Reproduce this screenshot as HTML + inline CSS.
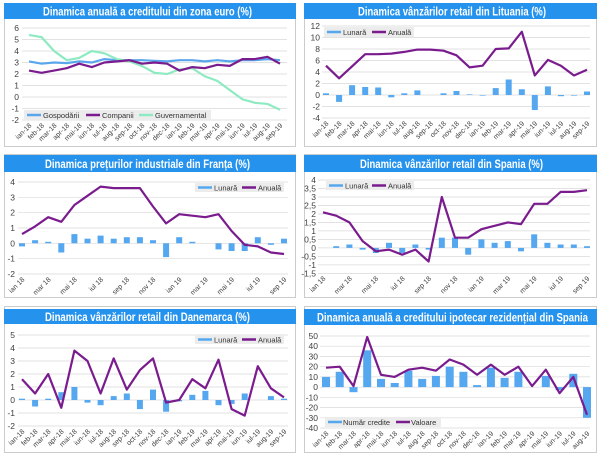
<!DOCTYPE html>
<html><head><meta charset="utf-8"><style>
body{margin:0;background:#fff}
svg{display:block;font-family:"Liberation Sans",sans-serif}
.t{font-family:"Liberation Sans",sans-serif;font-weight:bold;fill:#fff;font-size:12px}
.y{font-size:8.5px;fill:#404040;text-anchor:end}
.x{font-size:7px;fill:#404040;text-anchor:end}
.l{font-size:7.5px;fill:#333}
.g{stroke:#d9d9d9;stroke-width:0.7}
.b{fill:#55a7ef}
.p{fill:none;stroke:#7a1b8e;stroke-width:2.2;stroke-linejoin:round}
</style></head><body>
<svg width="600" height="456" viewBox="0 0 600 456">
<rect x="4.5" y="3.5" width="291" height="143" fill="#fff" stroke="#ccc"/>
<rect x="304.5" y="3.5" width="292" height="143" fill="#fff" stroke="#ccc"/>
<rect x="4.5" y="154.5" width="291" height="143" fill="#fff" stroke="#ccc"/>
<rect x="304.5" y="154.5" width="292" height="143" fill="#fff" stroke="#ccc"/>
<rect x="4.5" y="306.5" width="291" height="146" fill="#fff" stroke="#ccc"/>
<rect x="304.5" y="306.5" width="292" height="146" fill="#fff" stroke="#ccc"/>
<rect x="4" y="3" width="292" height="16" fill="#2592ee"/>
<text class="t" x="43" y="15.5" textLength="209" lengthAdjust="spacingAndGlyphs">Dinamica anuală a creditului din zona euro (%)</text>
<rect x="304" y="3" width="293" height="16" fill="#2592ee"/>
<text class="t" x="358" y="15.5" textLength="188" lengthAdjust="spacingAndGlyphs">Dinamica vânzărilor retail din Lituania (%)</text>
<rect x="4" y="155" width="292" height="17" fill="#2592ee"/>
<text class="t" x="45" y="168" textLength="205" lengthAdjust="spacingAndGlyphs">Dinamica prețurilor industriale din Franța (%)</text>
<rect x="304" y="155" width="293" height="17" fill="#2592ee"/>
<text class="t" x="360" y="168" textLength="183" lengthAdjust="spacingAndGlyphs">Dinamica vânzărilor retail din Spania (%)</text>
<rect x="4" y="309" width="292" height="15" fill="#2592ee"/>
<text class="t" x="45" y="321" textLength="205" lengthAdjust="spacingAndGlyphs">Dinamica vânzărilor retail din Danemarca  (%)</text>
<rect x="304" y="309" width="293" height="16" fill="#2592ee"/>
<text class="t" x="317" y="321.5" textLength="271" lengthAdjust="spacingAndGlyphs">Dinamica anuală a creditului ipotecar rezidențial din Spania</text>

<!-- PANEL 1 -->
<g class="g"><line x1="22" x2="287" y1="28" y2="28"/><line x1="22" x2="287" y1="39.5" y2="39.5"/><line x1="22" x2="287" y1="51" y2="51"/><line x1="22" x2="287" y1="62.5" y2="62.5"/><line x1="22" x2="287" y1="74" y2="74"/><line x1="22" x2="287" y1="85.5" y2="85.5"/><line x1="22" x2="287" y1="97" y2="97"/><line x1="22" x2="287" y1="108.5" y2="108.5"/><line x1="22" x2="287" y1="120" y2="120"/></g>
<g class="y"><text x="19" y="31">6</text><text x="19" y="42.5">5</text><text x="19" y="54">4</text><text x="19" y="65.5">3</text><text x="19" y="77">2</text><text x="19" y="88.5">1</text><text x="19" y="100">0</text><text x="19" y="111.5">-1</text><text x="19" y="123">-2</text></g>
<polyline fill="none" stroke="#5aa6ec" stroke-width="2.2" points="29,61.4 41.6,63.7 54.1,62.5 66.7,63.1 79.2,61.4 91.8,62.5 104.3,59.1 116.9,60.2 129.4,60.2 142,60.2 154.5,60.8 167.1,61.4 179.6,60.2 192.2,60.2 204.7,61.4 217.3,60.2 229.8,61.4 242.4,60.2 254.9,60.2 267.5,59.1 280,60.2"/>
<polyline fill="none" stroke="#8eeac2" stroke-width="2.2" points="29,34.9 41.6,37.2 54.1,51 66.7,60.2 79.2,57.9 91.8,51 104.3,53.3 116.9,59.1 129.4,61.4 142,66 154.5,72.8 167.1,74 179.6,69.4 192.2,68.2 204.7,76.3 217.3,80.9 229.8,90.1 242.4,99.3 254.9,102.8 267.5,103.9 280,109.7"/>
<polyline class="p" points="29,70.6 41.6,72.8 54.1,70.6 66.7,68.2 79.2,63.7 91.8,67.1 104.3,62.5 116.9,61.4 129.4,60.2 142,63.7 154.5,62.5 167.1,63.7 179.6,70.6 192.2,67.1 204.7,68.2 217.3,64.8 229.8,65.9 242.4,59.1 254.9,59.1 267.5,56.8 280,63.7"/>
<rect x="24" y="110" width="187" height="10" fill="#ececec"/>
<line x1="27" x2="41" y1="115" y2="115" stroke="#5aa6ec" stroke-width="2.5"/><text class="l" x="43" y="118">Gospodării</text>
<line x1="86" x2="100" y1="115" y2="115" stroke="#7a1b8e" stroke-width="2.5"/><text class="l" x="102" y="118">Companii</text>
<line x1="139" x2="153" y1="115" y2="115" stroke="#8eeac2" stroke-width="2.5"/><text class="l" x="155" y="118">Guvernamental</text>
<g class="x">
<text transform="translate(32,126) rotate(-45)">ian-18</text><text transform="translate(44.6,126) rotate(-45)">feb-18</text><text transform="translate(57.1,126) rotate(-45)">mar-18</text><text transform="translate(69.7,126) rotate(-45)">apr-18</text><text transform="translate(82.2,126) rotate(-45)">mai-18</text><text transform="translate(94.8,126) rotate(-45)">iun-18</text><text transform="translate(107.3,126) rotate(-45)">iul-18</text><text transform="translate(119.9,126) rotate(-45)">aug-18</text><text transform="translate(132.4,126) rotate(-45)">sep-18</text><text transform="translate(145,126) rotate(-45)">oct-18</text><text transform="translate(157.5,126) rotate(-45)">nov-18</text><text transform="translate(170.1,126) rotate(-45)">dec-18</text><text transform="translate(182.6,126) rotate(-45)">ian-19</text><text transform="translate(195.2,126) rotate(-45)">feb-19</text><text transform="translate(207.7,126) rotate(-45)">mar-19</text><text transform="translate(220.3,126) rotate(-45)">apr-19</text><text transform="translate(232.8,126) rotate(-45)">mai-19</text><text transform="translate(245.4,126) rotate(-45)">iun-19</text><text transform="translate(257.9,126) rotate(-45)">iul-19</text><text transform="translate(270.5,126) rotate(-45)">aug-19</text><text transform="translate(283,126) rotate(-45)">sep-19</text></g>

<!-- PANEL 2 -->
<g class="g"><line x1="322" x2="590" y1="26" y2="26"/><line x1="322" x2="590" y1="37.5" y2="37.5"/><line x1="322" x2="590" y1="49" y2="49"/><line x1="322" x2="590" y1="60.5" y2="60.5"/><line x1="322" x2="590" y1="72" y2="72"/><line x1="322" x2="590" y1="83.5" y2="83.5"/><line x1="322" x2="590" y1="95" y2="95"/><line x1="322" x2="590" y1="106.5" y2="106.5"/><line x1="322" x2="590" y1="118" y2="118"/></g>
<g class="y"><text x="320" y="29">12</text><text x="320" y="40.5">10</text><text x="320" y="52">8</text><text x="320" y="63.5">6</text><text x="320" y="75">4</text><text x="320" y="86.5">2</text><text x="320" y="98">0</text><text x="320" y="109.5">-2</text><text x="320" y="121">-4</text></g>
<g class="b"><rect x="323" y="93.3" width="6" height="1.7"/><rect x="336.1" y="95" width="6" height="6.9"/><rect x="349.1" y="85.2" width="6" height="9.8"/><rect x="362.2" y="87" width="6" height="8"/><rect x="375.2" y="87.5" width="6" height="7.5"/><rect x="388.3" y="95" width="6" height="2.3"/><rect x="401.3" y="93.3" width="6" height="1.7"/><rect x="414.4" y="90.4" width="6" height="4.6"/><rect x="440.5" y="93.3" width="6" height="1.7"/><rect x="453.5" y="91" width="6" height="4"/><rect x="466.6" y="94.4" width="6" height="0.6"/><rect x="479.6" y="95" width="6" height="0.6"/><rect x="492.7" y="88.1" width="6" height="6.9"/><rect x="505.7" y="79.5" width="6" height="15.5"/><rect x="518.8" y="89.25" width="6" height="5.75"/><rect x="531.8" y="95" width="6" height="15"/><rect x="544.9" y="86.4" width="6" height="8.6"/><rect x="557.9" y="95" width="6" height="1.2"/><rect x="571" y="95" width="6" height="0.6"/><rect x="584" y="91.5" width="6" height="3.5"/></g>
<polyline class="p" points="326,65.7 339.1,78.3 352.1,66.3 365.2,54.2 378.2,54.2 391.3,53.6 404.3,51.9 417.4,49.6 430.4,49.6 443.5,50.7 456.5,55.3 469.6,67.4 482.6,65.7 495.7,49 508.7,48.4 521.8,31.75 534.8,75.45 547.9,59.9 560.9,65.7 574,75.45 587,69.7"/>
<rect x="324" y="27" width="90" height="10" fill="#ececec"/>
<line x1="327" x2="341" y1="32" y2="32" stroke="#55a7ef" stroke-width="2.5"/><text class="l" x="343" y="35">Lunară</text>
<line x1="372" x2="386" y1="32" y2="32" stroke="#7a1b8e" stroke-width="2.5"/><text class="l" x="388" y="35">Anuală</text>
<g class="x">
<text transform="translate(329,124) rotate(-45)">ian-18</text><text transform="translate(342.1,124) rotate(-45)">feb-18</text><text transform="translate(355.1,124) rotate(-45)">mar-18</text><text transform="translate(368.2,124) rotate(-45)">apr-18</text><text transform="translate(381.2,124) rotate(-45)">mai-18</text><text transform="translate(394.3,124) rotate(-45)">iun-18</text><text transform="translate(407.3,124) rotate(-45)">iul-18</text><text transform="translate(420.4,124) rotate(-45)">aug-18</text><text transform="translate(433.4,124) rotate(-45)">sep-18</text><text transform="translate(446.5,124) rotate(-45)">oct-18</text><text transform="translate(459.5,124) rotate(-45)">nov-18</text><text transform="translate(472.6,124) rotate(-45)">dec-18</text><text transform="translate(485.6,124) rotate(-45)">ian-19</text><text transform="translate(498.7,124) rotate(-45)">feb-19</text><text transform="translate(511.7,124) rotate(-45)">mar-19</text><text transform="translate(524.8,124) rotate(-45)">apr-19</text><text transform="translate(537.8,124) rotate(-45)">mai-19</text><text transform="translate(550.9,124) rotate(-45)">iun-19</text><text transform="translate(563.9,124) rotate(-45)">iul-19</text><text transform="translate(577,124) rotate(-45)">aug-19</text><text transform="translate(590,124) rotate(-45)">sep-19</text></g>

<!-- PANEL 3 -->
<g class="g"><line x1="18" x2="288" y1="182" y2="182"/><line x1="18" x2="288" y1="197.3" y2="197.3"/><line x1="18" x2="288" y1="212.7" y2="212.7"/><line x1="18" x2="288" y1="228" y2="228"/><line x1="18" x2="288" y1="243.3" y2="243.3"/><line x1="18" x2="288" y1="258.7" y2="258.7"/><line x1="18" x2="288" y1="274" y2="274"/></g>
<g class="y"><text x="15" y="185">4</text><text x="15" y="200.3">3</text><text x="15" y="215.7">2</text><text x="15" y="231">1</text><text x="15" y="246.3">0</text><text x="15" y="261.7">-1</text><text x="15" y="277">-2</text></g>
<g class="b"><rect x="19" y="243.3" width="6" height="3.1"/><rect x="32.1" y="240.2" width="6" height="3.1"/><rect x="45.2" y="241.8" width="6" height="1.5"/><rect x="58.3" y="243.3" width="6" height="9.2"/><rect x="71.4" y="234.1" width="6" height="9.2"/><rect x="84.5" y="238.7" width="6" height="4.6"/><rect x="97.6" y="235.6" width="6" height="7.7"/><rect x="110.7" y="238.7" width="6" height="4.6"/><rect x="123.8" y="237.2" width="6" height="6.1"/><rect x="136.9" y="237.2" width="6" height="6.1"/><rect x="150" y="240.2" width="6" height="3.1"/><rect x="163.1" y="243.3" width="6" height="13.8"/><rect x="176.2" y="237.2" width="6" height="6.1"/><rect x="189.3" y="241.8" width="6" height="1.5"/><rect x="215.5" y="243.3" width="6" height="6.1"/><rect x="228.6" y="243.3" width="6" height="7.7"/><rect x="241.7" y="243.3" width="6" height="7.7"/><rect x="254.8" y="237.2" width="6" height="6.1"/><rect x="267.9" y="243.3" width="6" height="1.5"/><rect x="281" y="238.7" width="6" height="4.6"/></g>
<polyline class="p" points="22,234.1 35.1,226.4 48.2,217.2 61.3,221.8 74.4,205 87.5,195.8 100.6,186.6 113.7,188.1 126.8,188.1 139.9,188.1 153,206.5 166.1,223.4 179.2,214.2 192.3,215.7 205.4,217.2 218.5,214.2 231.6,231 244.7,244.8 257.8,246.4 270.9,252.5 284,254"/>
<rect x="195" y="183" width="89" height="9" fill="#ececec"/>
<line x1="198" x2="212" y1="187.5" y2="187.5" stroke="#55a7ef" stroke-width="2.5"/><text class="l" x="214" y="190.5">Lunară</text>
<line x1="242" x2="256" y1="187.5" y2="187.5" stroke="#7a1b8e" stroke-width="2.5"/><text class="l" x="258" y="190.5">Anuală</text>
<g class="x"><text transform="translate(25,280) rotate(-45)">ian 18</text><text transform="translate(51.2,280) rotate(-45)">mar 18</text><text transform="translate(77.4,280) rotate(-45)">mai 18</text><text transform="translate(103.6,280) rotate(-45)">iul 18</text><text transform="translate(129.8,280) rotate(-45)">sep 18</text><text transform="translate(156,280) rotate(-45)">nov 18</text><text transform="translate(182.2,280) rotate(-45)">ian 19</text><text transform="translate(208.4,280) rotate(-45)">mar 19</text><text transform="translate(234.6,280) rotate(-45)">mai 19</text><text transform="translate(260.8,280) rotate(-45)">iul 19</text><text transform="translate(287,280) rotate(-45)">sep 19</text></g>

<!-- PANEL 4 -->
<g class="g"><line x1="318" x2="590" y1="180" y2="180"/><line x1="318" x2="590" y1="188.5" y2="188.5"/><line x1="318" x2="590" y1="197" y2="197"/><line x1="318" x2="590" y1="205.5" y2="205.5"/><line x1="318" x2="590" y1="214" y2="214"/><line x1="318" x2="590" y1="222.4" y2="222.4"/><line x1="318" x2="590" y1="230.9" y2="230.9"/><line x1="318" x2="590" y1="239.4" y2="239.4"/><line x1="318" x2="590" y1="247.9" y2="247.9"/><line x1="318" x2="590" y1="256.4" y2="256.4"/><line x1="318" x2="590" y1="264.9" y2="264.9"/><line x1="318" x2="590" y1="273.4" y2="273.4"/></g>
<g class="y"><text x="316" y="183">4</text><text x="316" y="191.5">3,5</text><text x="316" y="200">3</text><text x="316" y="208.5">2,5</text><text x="316" y="217">2</text><text x="316" y="225.4">1,5</text><text x="316" y="233.9">1</text><text x="316" y="242.4">0,5</text><text x="316" y="250.9">0</text><text x="316" y="259.4">-0,5</text><text x="316" y="267.9">-1</text><text x="316" y="276.4">-1,5</text></g>
<g class="b"><rect x="333.2" y="246.2" width="6" height="1.7"/><rect x="346.4" y="244.5" width="6" height="3.4"/><rect x="359.6" y="247.9" width="6" height="1.7"/><rect x="372.8" y="247.9" width="6" height="5.1"/><rect x="386" y="242.8" width="6" height="5.1"/><rect x="399.2" y="247.9" width="6" height="5.1"/><rect x="412.4" y="244.5" width="6" height="3.4"/><rect x="425.6" y="247.9" width="6" height="1.7"/><rect x="438.8" y="237.7" width="6" height="10.2"/><rect x="452" y="237.7" width="6" height="10.2"/><rect x="465.2" y="247.9" width="6" height="6.8"/><rect x="478.4" y="239.4" width="6" height="8.5"/><rect x="491.6" y="242.8" width="6" height="5.1"/><rect x="504.8" y="241.1" width="6" height="6.8"/><rect x="518" y="247.9" width="6" height="3.4"/><rect x="531.2" y="234.3" width="6" height="13.6"/><rect x="544.4" y="242.8" width="6" height="5.1"/><rect x="557.6" y="244.5" width="6" height="3.4"/><rect x="570.8" y="244.5" width="6" height="3.4"/><rect x="584" y="246.2" width="6" height="1.7"/></g>
<polyline class="p" points="323,212.3 336.2,215.7 349.4,222.4 362.6,241.1 375.8,251.3 389,249.6 402.2,254.7 415.4,249.6 428.6,261.5 441.8,197 455,237.7 468.2,237.7 481.4,229.2 494.6,225.8 507.8,222.4 521,224.1 534.2,203.8 547.4,203.8 560.6,191.9 573.8,191.9 587,190.2"/>
<rect x="326" y="181" width="88" height="9" fill="#ececec"/>
<line x1="329" x2="343" y1="185.5" y2="185.5" stroke="#55a7ef" stroke-width="2.5"/><text class="l" x="345" y="188.5">Lunară</text>
<line x1="372" x2="386" y1="185.5" y2="185.5" stroke="#7a1b8e" stroke-width="2.5"/><text class="l" x="388" y="188.5">Anuală</text>
<g class="x"><text transform="translate(326,279) rotate(-45)">ian 18</text><text transform="translate(352.4,279) rotate(-45)">mar 18</text><text transform="translate(378.8,279) rotate(-45)">mai 18</text><text transform="translate(405.2,279) rotate(-45)">iul 18</text><text transform="translate(431.6,279) rotate(-45)">sep 18</text><text transform="translate(458,279) rotate(-45)">nov 18</text><text transform="translate(484.4,279) rotate(-45)">ian 19</text><text transform="translate(510.8,279) rotate(-45)">mar 19</text><text transform="translate(537.2,279) rotate(-45)">mai 19</text><text transform="translate(563.6,279) rotate(-45)">iul 19</text><text transform="translate(590,279) rotate(-45)">sep 19</text></g>

<!-- PANEL 5 -->
<g class="g"><line x1="18" x2="288" y1="335" y2="335"/><line x1="18" x2="288" y1="348" y2="348"/><line x1="18" x2="288" y1="361" y2="361"/><line x1="18" x2="288" y1="374" y2="374"/><line x1="18" x2="288" y1="387" y2="387"/><line x1="18" x2="288" y1="400" y2="400"/><line x1="18" x2="288" y1="413" y2="413"/><line x1="18" x2="288" y1="426" y2="426"/></g>
<g class="y"><text x="15" y="338">5</text><text x="15" y="351">4</text><text x="15" y="364">3</text><text x="15" y="377">2</text><text x="15" y="390">1</text><text x="15" y="403">0</text><text x="15" y="416">-1</text><text x="15" y="429">-2</text></g>
<g class="b"><rect x="19" y="398.7" width="6" height="1.3"/><rect x="32.1" y="400" width="6" height="6.5"/><rect x="45.2" y="398.7" width="6" height="1.3"/><rect x="58.3" y="392.2" width="6" height="7.8"/><rect x="71.4" y="387" width="6" height="13"/><rect x="84.5" y="400" width="6" height="2.6"/><rect x="97.6" y="400" width="6" height="5.2"/><rect x="110.7" y="396.1" width="6" height="3.9"/><rect x="123.8" y="393.5" width="6" height="6.5"/><rect x="136.9" y="400" width="6" height="9.1"/><rect x="150" y="389.6" width="6" height="10.4"/><rect x="163.1" y="400" width="6" height="11.7"/><rect x="176.2" y="400" width="6" height="1.3"/><rect x="189.3" y="394.8" width="6" height="5.2"/><rect x="202.4" y="390.9" width="6" height="9.1"/><rect x="215.5" y="400" width="6" height="5.2"/><rect x="228.6" y="400" width="6" height="3.9"/><rect x="241.7" y="393.5" width="6" height="6.5"/><rect x="267.9" y="396.1" width="6" height="3.9"/><rect x="281" y="398.7" width="6" height="1.3"/></g>
<polyline class="p" points="22,379.2 35.1,393.5 48.2,374 61.3,407.8 74.4,350.6 87.5,361 100.6,393.5 113.7,358.4 126.8,389.6 139.9,370.1 153,358.4 166.1,402.6 179.2,400 192.3,379.2 205.4,388.3 218.5,359.7 231.6,409.1 244.7,415.6 257.8,366.2 270.9,388.3 284,397.4"/>
<rect x="195" y="335" width="89" height="9" fill="#ececec"/>
<line x1="198" x2="212" y1="339.5" y2="339.5" stroke="#55a7ef" stroke-width="2.5"/><text class="l" x="214" y="342.5">Lunară</text>
<line x1="242" x2="256" y1="339.5" y2="339.5" stroke="#7a1b8e" stroke-width="2.5"/><text class="l" x="258" y="342.5">Anuală</text>
<g class="x">
<text transform="translate(25,432) rotate(-45)">ian-18</text><text transform="translate(38.1,432) rotate(-45)">feb-18</text><text transform="translate(51.2,432) rotate(-45)">mar-18</text><text transform="translate(64.3,432) rotate(-45)">apr-18</text><text transform="translate(77.4,432) rotate(-45)">mai-18</text><text transform="translate(90.5,432) rotate(-45)">iun-18</text><text transform="translate(103.6,432) rotate(-45)">iul-18</text><text transform="translate(116.7,432) rotate(-45)">aug-18</text><text transform="translate(129.8,432) rotate(-45)">sep-18</text><text transform="translate(142.9,432) rotate(-45)">oct-18</text><text transform="translate(156,432) rotate(-45)">nov-18</text><text transform="translate(169.1,432) rotate(-45)">dec-18</text><text transform="translate(182.2,432) rotate(-45)">ian-19</text><text transform="translate(195.3,432) rotate(-45)">feb-19</text><text transform="translate(208.4,432) rotate(-45)">mar-19</text><text transform="translate(221.5,432) rotate(-45)">apr-19</text><text transform="translate(234.6,432) rotate(-45)">mai-19</text><text transform="translate(247.7,432) rotate(-45)">iun-19</text><text transform="translate(260.8,432) rotate(-45)">iul-19</text><text transform="translate(273.9,432) rotate(-45)">aug-19</text><text transform="translate(287,432) rotate(-45)">sep-19</text></g>

<!-- PANEL 6 -->
<g class="g"><line x1="320" x2="590" y1="336" y2="336"/><line x1="320" x2="590" y1="346.2" y2="346.2"/><line x1="320" x2="590" y1="356.5" y2="356.5"/><line x1="320" x2="590" y1="366.7" y2="366.7"/><line x1="320" x2="590" y1="376.9" y2="376.9"/><line x1="320" x2="590" y1="387.1" y2="387.1"/><line x1="320" x2="590" y1="397.3" y2="397.3"/><line x1="320" x2="590" y1="407.6" y2="407.6"/><line x1="320" x2="590" y1="417.8" y2="417.8"/><line x1="320" x2="590" y1="428" y2="428"/></g>
<g class="y"><text x="318" y="339">50</text><text x="318" y="349.2">40</text><text x="318" y="359.5">30</text><text x="318" y="369.7">20</text><text x="318" y="379.9">10</text><text x="318" y="390.1">0</text><text x="318" y="400.3">-10</text><text x="318" y="410.6">-20</text><text x="318" y="420.8">-30</text><text x="318" y="431">-40</text></g>
<g class="b"><rect x="322" y="376.9" width="8" height="10.2"/><rect x="335.7" y="371.8" width="8" height="15.3"/><rect x="349.5" y="387.1" width="8" height="5.1"/><rect x="363.2" y="350.3" width="8" height="36.8"/><rect x="377" y="378.9" width="8" height="8.2"/><rect x="390.7" y="383" width="8" height="4.1"/><rect x="404.4" y="370.7" width="8" height="16.4"/><rect x="418.2" y="378.9" width="8" height="8.2"/><rect x="431.9" y="375.9" width="8" height="11.2"/><rect x="445.7" y="366.7" width="8" height="20.4"/><rect x="459.4" y="371.8" width="8" height="15.3"/><rect x="473.1" y="385.1" width="8" height="2"/><rect x="486.9" y="367.7" width="8" height="19.4"/><rect x="500.6" y="377.9" width="8" height="9.2"/><rect x="514.4" y="371.8" width="8" height="15.3"/><rect x="541.8" y="375.9" width="8" height="11.2"/><rect x="555.6" y="387.1" width="8" height="3.1"/><rect x="569.3" y="373.8" width="8" height="13.3"/><rect x="583" y="387.1" width="8" height="30.7"/></g>
<polyline class="p" points="326,367.7 339.7,366.7 353.5,386.1 367.2,337 381,374.8 394.7,376.9 408.4,369.7 422.2,367.7 435.9,370.7 449.7,359.5 463.4,364.6 477.1,374.8 490.9,364.6 504.6,374.8 518.4,366.7 532.1,386.1 545.8,369.7 559.6,393.2 573.3,376.9 587,414.7"/>
<rect x="325" y="417" width="116" height="10" fill="#ececec"/>
<line x1="328" x2="342" y1="422" y2="422" stroke="#55a7ef" stroke-width="2.5"/><text class="l" x="343" y="425">Număr credite</text>
<line x1="396" x2="410" y1="422" y2="422" stroke="#7a1b8e" stroke-width="2.5"/><text class="l" x="411" y="425">Valoare</text>
<g class="x">
<text transform="translate(329,434) rotate(-45)">ian-18</text><text transform="translate(342.7,434) rotate(-45)">feb-18</text><text transform="translate(356.5,434) rotate(-45)">mar-18</text><text transform="translate(370.2,434) rotate(-45)">apr-18</text><text transform="translate(384,434) rotate(-45)">mai-18</text><text transform="translate(397.7,434) rotate(-45)">iun-18</text><text transform="translate(411.4,434) rotate(-45)">iul-18</text><text transform="translate(425.2,434) rotate(-45)">aug-18</text><text transform="translate(438.9,434) rotate(-45)">sep-18</text><text transform="translate(452.7,434) rotate(-45)">oct-18</text><text transform="translate(466.4,434) rotate(-45)">nov-18</text><text transform="translate(480.1,434) rotate(-45)">dec-18</text><text transform="translate(493.9,434) rotate(-45)">ian-19</text><text transform="translate(507.6,434) rotate(-45)">feb-19</text><text transform="translate(521.4,434) rotate(-45)">mar-19</text><text transform="translate(535.1,434) rotate(-45)">apr-19</text><text transform="translate(548.8,434) rotate(-45)">mai-19</text><text transform="translate(562.6,434) rotate(-45)">iun-19</text><text transform="translate(576.3,434) rotate(-45)">iul-19</text><text transform="translate(590,434) rotate(-45)">aug-19</text></g>
</svg>
</body></html>
